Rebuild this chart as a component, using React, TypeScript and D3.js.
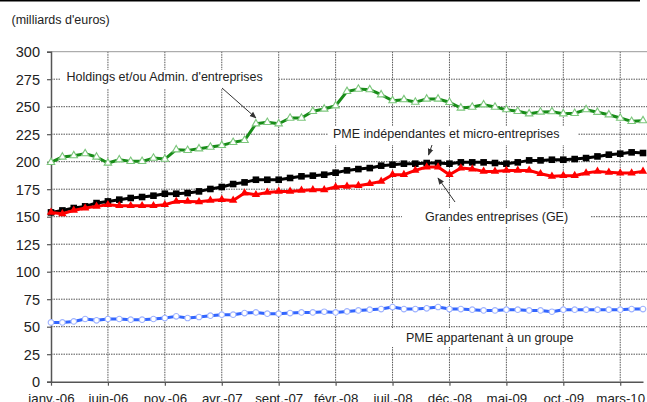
import * as d3 from "d3";
import { useEffect, useRef } from "react";

// mois affichés (janv.-06 -> mai-10)
const moisNoms = ["janv.", "févr.", "mars", "avr.", "mai", "juin", "juil.", "août", "sept.", "oct.", "nov.", "déc."];
const annees = ["06", "07", "08", "09", "10"];
const categories: string[] = [];
annees.forEach((a) => moisNoms.forEach((m) => categories.push(`${m}-${a}`)));
categories.splice(53);

const tickLabels = ["janv.-06", "juin-06", "nov.-06", "avr.-07", "sept.-07", "févr.-08", "juil.-08", "déc.-08", "mai-09", "oct.-09", "mars-10"];
const yTicks = [0, 25, 50, 75, 100, 125, 150, 175, 200, 225, 250, 275, 300];

const holdings = [199.4, 204.3, 205.5, 207.3, 204.3, 198.8, 201.8, 200.3, 200.3, 203.3, 202.4, 210.9, 210.3, 211.8, 213.3, 214.8, 217.6, 219.4, 234.5, 235.8, 234.5, 239.7, 239.7, 245.8, 247.9, 250.9, 263.9, 266, 265.5, 260.9, 255.5, 256.4, 254.2, 257, 257, 254, 248.8, 249.7, 251.8, 249.7, 247.3, 245.8, 243.6, 245.2, 245.5, 243.6, 244, 247.3, 245, 242.7, 239.7, 236.7, 237.3];
const pmeIndep = [153.9, 155.7, 157.9, 159.4, 162.4, 163.9, 165.5, 167, 167.9, 169.1, 170.9, 170.9, 171.5, 173, 175.2, 177, 179.7, 181.2, 183.6, 183.6, 183.6, 185.2, 186.7, 187.3, 188.2, 190, 192.1, 193.3, 194.2, 196.4, 197.3, 198.2, 198.2, 198.8, 198.8, 198.2, 199.4, 199.4, 199.4, 198.8, 198.2, 199.4, 201.2, 201.2, 201.8, 201.8, 202.4, 203.3, 204.8, 206.4, 207.3, 208.5, 207.9];
const grandesEntr = [153.9, 152.7, 155.7, 157.9, 159.4, 160.9, 160, 160, 160, 160, 160.9, 163.9, 163.9, 163.6, 164.8, 165.5, 164.8, 171.5, 170, 172.1, 173, 173, 173.9, 174.5, 174.5, 177, 177.6, 178.2, 180, 182.1, 188.2, 188.2, 192.1, 195.2, 195.2, 188.2, 194.2, 193.3, 191.2, 191.2, 192.1, 192.1, 192.1, 189.1, 186.7, 187.3, 187.3, 189.7, 191.2, 190.3, 189.7, 189.7, 191.2];
const pmeGroupe = [53.9, 53.9, 54.8, 57, 55.8, 57, 57, 56.4, 56.4, 57, 57.9, 59.4, 57.9, 58.8, 60, 60.9, 60.9, 62.4, 63, 61.8, 61.8, 62.4, 63, 63, 63.6, 63, 63.9, 64.8, 65.5, 66, 67.9, 66, 66, 66.7, 67.9, 66, 66, 65.5, 64.8, 64.8, 65.5, 65.5, 64.8, 64.8, 63.6, 65.5, 65.5, 65.5, 65.5, 65.5, 65.5, 66, 66];

const FONT = "Arial, 'Liberation Sans', sans-serif";

const App = () => {
  const ref = useRef<SVGSVGElement>(null);

  useEffect(() => {
    const width = 647;
    const svg = d3.select(ref.current);
    svg.selectAll("*").remove();

    const x = d3.scalePoint<string>().domain(categories).range([51, 643]);
    const y = d3.scaleLinear().domain([0, 300]).range([381.7, 51.7]);
    const x0 = 51;

    // trait noir en haut
    svg.append("rect").attr("x", 0).attr("y", 0).attr("width", 640).attr("height", 1.5).attr("fill", "#000");

    // unité
    svg.append("text").attr("x", 11.5).attr("y", 24).attr("font-size", 12.5).attr("font-family", FONT).attr("fill", "#222").text("(milliards d'euros)");

    // grille horizontale
    svg
      .append("g")
      .selectAll("line")
      .data(yTicks.filter((t) => t > 0 && t < 300))
      .join("line")
      .attr("x1", x0)
      .attr("x2", width)
      .attr("y1", (d) => y(d))
      .attr("y2", (d) => y(d))
      .attr("stroke", "#555")
      .attr("stroke-width", 1)
      .attr("stroke-dasharray", "1.5,1");

    // grille verticale
    svg
      .append("g")
      .selectAll("line")
      .data(tickLabels.slice(1))
      .join("line")
      .attr("x1", (d) => x(d)!)
      .attr("x2", (d) => x(d)!)
      .attr("y1", y(300))
      .attr("y2", y(0))
      .attr("stroke", "#555")
      .attr("stroke-width", 1)
      .attr("stroke-dasharray", "1.5,1");

    // bord haut
    svg.append("line").attr("x1", x0).attr("x2", width).attr("y1", y(300)).attr("y2", y(300)).attr("stroke", "#999").attr("stroke-width", 1);

    // axes
    const yAxis = svg
      .append("g")
      .attr("transform", `translate(${x0},0)`)
      .call(d3.axisLeft(y).tickValues(yTicks).tickSize(4).tickPadding(7));
    yAxis.select(".domain").attr("stroke", "#555").attr("stroke-width", 1.5);
    yAxis.selectAll(".tick line").attr("stroke", "#555").attr("stroke-width", 1.2);
    yAxis.selectAll("text").attr("font-size", 14.5).attr("font-family", FONT).attr("fill", "#222").attr("dy", "0.36em");

    const xAxis = svg
      .append("g")
      .attr("transform", `translate(0,${y(0)})`)
      .call(d3.axisBottom(x).tickValues(tickLabels).tickSize(4).tickSizeOuter(0).tickPadding(8));
    xAxis.select(".domain").attr("stroke", "#555").attr("stroke-width", 1.5);
    xAxis.selectAll(".tick line").attr("stroke", "#555").attr("stroke-width", 1.2);
    xAxis.selectAll("text").attr("font-size", 13.3).attr("font-family", FONT).attr("fill", "#222");

    // étiquettes des séries
    const labels = [
      { t: "Holdings et/ou Admin. d'entreprises", x: 66.5, y: 81, bx: 60, bw: 218, by: 70 },
      { t: "PME indépendantes et micro-entreprises", x: 333, y: 138, bx: 328, bw: 250, by: 126 },
      { t: "Grandes entreprises (GE)", x: 425, y: 221, bx: 402, bw: 188, by: 208 },
      { t: "PME appartenant à un groupe", x: 406, y: 342, bx: 382, bw: 215, by: 328 },
    ];
    labels.forEach((l) => {
      svg.append("rect").attr("x", l.bx).attr("y", l.by).attr("width", l.bw).attr("height", 19).attr("fill", "#fff");
      svg.append("text").attr("x", l.x).attr("y", l.y).attr("font-size", 12.5).attr("font-family", FONT).attr("fill", "#222").text(l.t);
    });

    // flèches
    svg
      .append("defs")
      .append("marker")
      .attr("id", "fleche")
      .attr("viewBox", "0 0 10 10")
      .attr("refX", 9)
      .attr("refY", 5)
      .attr("markerWidth", 7)
      .attr("markerHeight", 7)
      .attr("orient", "auto")
      .append("path")
      .attr("d", "M0,1L10,5L0,9z")
      .attr("fill", "#333");
    const fleches = [
      [222, 88, 256, 118],
      [432, 145, 428.5, 155],
      [455, 202, 438, 178],
    ];
    fleches.forEach(([a, b, c, d]) => {
      svg.append("line").attr("x1", a).attr("y1", b).attr("x2", c).attr("y2", d).attr("stroke", "#333").attr("stroke-width", 1).attr("marker-end", "url(#fleche)");
    });

    // séries
    const line = d3
      .line<number>()
      .x((_, i) => x(categories[i])!)
      .y((d) => y(d));

    const series = [
      { data: holdings, color: "#188c18", marker: "triUp", mFill: "#fff", mStroke: "#7cc67c" },
      { data: pmeIndep, color: "#000", marker: "square", mFill: "#000", mStroke: "#000" },
      { data: grandesEntr, color: "#ff0000", marker: "triFill", mFill: "#ff0000", mStroke: "#ff0000" },
      { data: pmeGroupe, color: "#3366ff", marker: "circle", mFill: "#fff", mStroke: "#9fb3ff" },
    ];

    const triangle = d3.symbol().type(d3.symbolTriangle).size(24)();
    const triangleFill = d3.symbol().type(d3.symbolTriangle).size(30)();

    series.forEach((s) => {
      const g = svg.append("g");
      g.append("path").datum(s.data).attr("d", line).attr("fill", "none").attr("stroke", s.color).attr("stroke-width", 3).attr("stroke-linejoin", "round");
      const pts = g
        .selectAll("g.pt")
        .data(s.data)
        .join("g")
        .attr("transform", (d, i) => `translate(${x(categories[i])},${y(d)})`);
      if (s.marker === "square") {
        pts.append("rect").attr("x", -3.3).attr("y", -3.3).attr("width", 6.6).attr("height", 6.6).attr("fill", s.mFill);
      } else if (s.marker === "circle") {
        pts.append("circle").attr("r", 2.8).attr("fill", s.mFill).attr("stroke", s.mStroke).attr("stroke-width", 1.1);
      } else if (s.marker === "triUp") {
        pts.append("path").attr("d", triangle).attr("fill", s.mFill).attr("stroke", s.mStroke).attr("stroke-width", 1.1);
      } else {
        pts.append("path").attr("d", triangleFill).attr("fill", s.mFill);
      }
    });
  }, []);

  return <svg ref={ref} width={647} height={402} style={{ position: "fixed", left: 0, top: 0, background: "#fff" }} />;
};

export default App;
